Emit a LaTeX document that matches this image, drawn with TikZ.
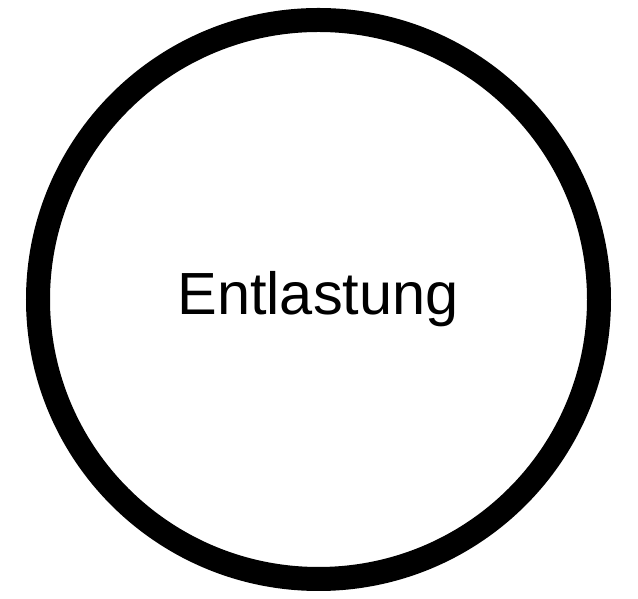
\documentclass[tikz,border=0pt]{standalone}
\usetikzlibrary{shapes.geometric}
\usepackage{fontspec}
\setmainfont{Liberation Sans}
\begin{document}
\begin{tikzpicture}[x=1pt,y=1pt,
  ring/.style={draw=black,line width=24pt,ellipse,minimum width=561pt,minimum height=559pt,inner sep=0pt},
  label/.style={font=\fontsize{59.5}{70}\selectfont,anchor=base,inner sep=0pt}]
\useasboundingbox (0,0) rectangle (638,599);
\node[ring] (ring) at (318.5,299.5) {};
\node[label] (t) at (318,284) {Entlastung};
\end{tikzpicture}
\end{document}
